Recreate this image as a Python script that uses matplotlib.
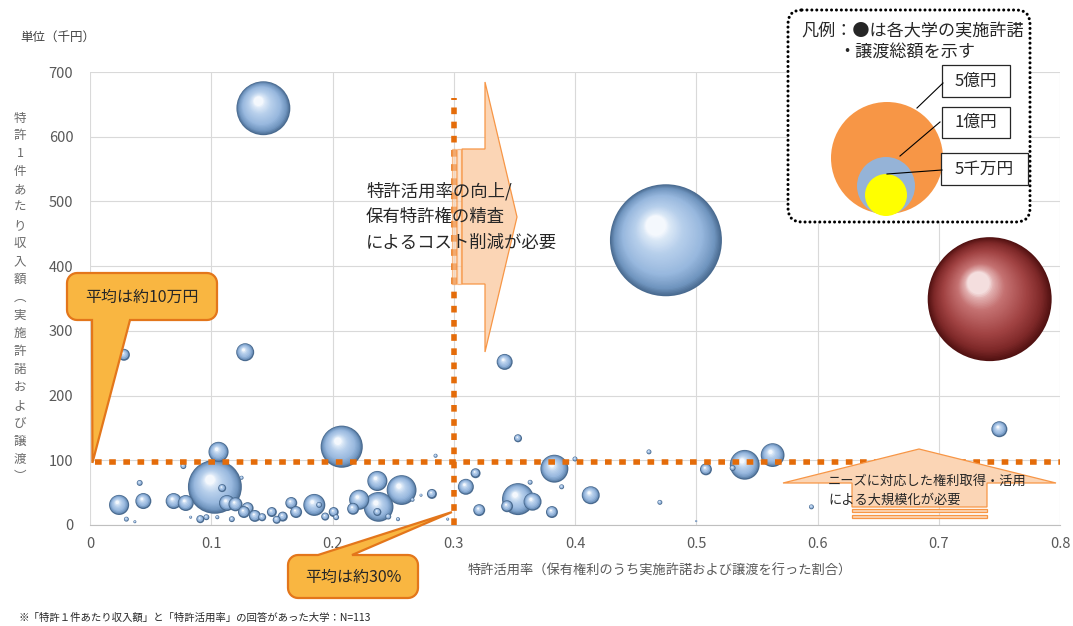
import numpy as np
import matplotlib
matplotlib.use('Agg')
import matplotlib.pyplot as plt
from matplotlib.patches import Polygon, Rectangle, Circle, FancyBboxPatch
from matplotlib.colors import LinearSegmentedColormap

plt.rcParams['font.family'] = ['Noto Sans CJK JP', 'DejaVu Sans']

# 各大学: 特許活用率, 特許1件あたり収入額(千円), 実施許諾・譲渡総額(百万円)
util = [0.024, 0.044, 0.041, 0.030, 0.037, 0.069, 0.079, 0.103, 0.106, 0.077,
        0.109, 0.113, 0.120, 0.125, 0.127, 0.130, 0.136, 0.142, 0.150, 0.154,
        0.091, 0.096, 0.105, 0.117, 0.083, 0.028, 0.128, 0.143,
        0.2076, 0.285, 0.237, 0.257, 0.222, 0.238, 0.217, 0.237, 0.246, 0.254,
        0.266, 0.273, 0.282, 0.185, 0.189, 0.166, 0.170, 0.159, 0.201, 0.194,
        0.203, 0.295,
        0.310, 0.318, 0.321, 0.353, 0.353, 0.365, 0.344, 0.381, 0.383, 0.363,
        0.389, 0.400, 0.413, 0.342, 0.461, 0.508, 0.540, 0.530, 0.563, 0.470,
        0.595, 0.500, 0.750, 0.475]
income = [31, 37, 65, 9, 5, 37, 34, 59, 113, 91,
          57, 34, 32, 73, 20, 26, 14, 12, 20, 8,
          9, 12, 12, 9, 12, 263, 267, 644,
          121, 107, 68, 54, 39, 28, 25, 20, 13, 9,
          39, 46, 48, 31, 31, 34, 20, 13, 20, 13,
          12, 9,
          59, 80, 23, 134, 40, 36, 29, 20, 87, 66,
          59, 102, 46, 252, 113, 86, 93, 88, 108, 35,
          28, 6, 148, 440]
total = [15, 9.5, 1.3, 0.9, 0.33, 9.5, 9.5, 108, 15, 1.3,
         2.4, 9.5, 7.3, 0.6, 5.3, 5.3, 5.3, 2.4, 3.7, 2.4,
         2.4, 1.3, 0.6, 1.3, 0.33, 5.3, 12, 108,
         66, 0.6, 15, 33, 15, 33, 5.3, 2.4, 1.3, 0.6,
         0.6, 0.33, 3.7, 18, 1.3, 5.3, 5.3, 3.7, 3.7, 2.4,
         1.3, 0.33,
         9.5, 3.7, 5.3, 2.4, 38, 12, 5.3, 5.3, 29, 0.9,
         0.9, 0.9, 12, 9.5, 0.9, 5.3, 33, 1.3, 21, 0.9,
         0.9, 0.15, 9.5, 466]

# 強調表示する大学
hl_util = [0.742]
hl_income = [349]
hl_total = [571]

avg_util = 0.30
avg_income = 98

x_ticks = [0, 0.1, 0.2, 0.3, 0.4, 0.5, 0.6, 0.7, 0.8]
x_tick_labels = ['0', '0.1', '0.2', '0.3', '0.4', '0.5', '0.6', '0.7', '0.8']
y_ticks = [0, 100, 200, 300, 400, 500, 600, 700]

y_label = '特許1件あたり収入額︵実施許諾および譲渡︶'
x_label = '特許活用率（保有権利のうち実施許諾および譲渡を行った割合）'

W, H, DPI = 1073, 626, 100
fig = plt.figure(figsize=(W / DPI, H / DPI), dpi=DPI)
ax = fig.add_axes([90 / W, 1 - 525 / H, 970 / W, 453 / H])
ax.set_xlim(0, 0.8)
ax.set_ylim(0, 700)
ax.set_xticks(x_ticks)
ax.set_xticklabels(x_tick_labels)
ax.set_yticks(y_ticks)
ax.tick_params(length=0, labelsize=10.5, colors='#595959')
ax.tick_params(axis='x', pad=9)
ax.tick_params(axis='y', pad=12)
ax.grid(True, color='#d9d9d9', lw=0.8)
ax.set_axisbelow(True)
for side in ['top', 'right', 'left']:
    ax.spines[side].set_visible(False)
ax.spines['bottom'].set_color('#bfbfbf')
ax.set_xlabel(x_label, fontsize=9.5, color='#595959', va='center')
ax.xaxis.set_label_coords((660 - 90) / 970, -(571 - 525) / 453)

ppx = 970 / 0.8
ppy = 453 / 700

blue = LinearSegmentedColormap.from_list('ball', [
    (0, '#4a6b90'), (0.12, '#7095bf'), (0.35, '#98b8de'),
    (0.7, '#b8d0ec'), (0.92, '#dce9f7'), (1, '#f4f8fd')])
red = LinearSegmentedColormap.from_list('ball_r', [
    (0, '#521212'), (0.15, '#7e2828'), (0.4, '#a24444'),
    (0.75, '#c57272'), (0.93, '#e2b0b0'), (1, '#f4dede')])


def bubble_r(v):
    # 半径(px)、面積が総額に比例
    return 58 * np.sqrt(v / 500)


def sphere(x, y, v, cmap, z):
    R = bubble_r(v)
    n = int(np.clip(R * 0.9, 4, 45))
    t = np.linspace(0, 1, n)
    rad = R * (1 - 0.82 * t)
    xs = x - 0.18 * R * t / ppx
    ys = y + 0.26 * R * t / ppy
    s = (2 * rad * 72 / DPI) ** 2
    ax.scatter(xs, ys, s=s, c=cmap(t), linewidths=0, zorder=z, clip_on=False)


order = np.argsort(total)[::-1]
for k, i in enumerate(order):
    sphere(util[i], income[i], total[i], blue, 3 + k * 0.001)
for i in range(len(hl_util)):
    sphere(hl_util[i], hl_income[i], hl_total[i], red, 3)

# 平均線
dot = dict(color='#e46c0a', lw=4, dashes=(1.2, 1.35), dash_capstyle='butt',
           zorder=6, clip_on=False)
ax.plot([0.004, 0.8], [avg_income, avg_income], **dot)
ax.plot([avg_util, avg_util], [0, 660], **dot)

# 注記用のピクセル座標レイヤー
ov = fig.add_axes([0, 0, 1, 1], zorder=5)
ov.set_xlim(0, W)
ov.set_ylim(H, 0)
ov.axis('off')
ov.patch.set_visible(False)


def to_px(x, y):
    dx, dy = ax.transData.transform((x, y))
    return dx, H - dy


def callout(x0, y0, x1, y1, rad, side, a, b, tip):
    pts = []

    def arc(cx, cy, a0, a1):
        for ang in np.linspace(a0, a1, 8):
            pts.append((cx + rad * np.cos(ang), cy + rad * np.sin(ang)))
    arc(x0 + rad, y0 + rad, np.pi, 1.5 * np.pi)
    if side == 'top':
        pts.extend([(a, y0), tip, (b, y0)])
    arc(x1 - rad, y0 + rad, 1.5 * np.pi, 2 * np.pi)
    arc(x1 - rad, y1 - rad, 0, 0.5 * np.pi)
    if side == 'bottom':
        pts.extend([(b, y1), tip, (a, y1)])
    arc(x0 + rad, y1 - rad, 0.5 * np.pi, np.pi)
    ov.add_patch(Polygon(pts, closed=True, fc='#f9b641', ec='#e3761b', lw=1.6))


callout(67, 273, 217, 320, 10, 'bottom', 92, 130, to_px(0.002, avg_income - 2))
ov.text(142, 297, '平均は約10万円', fontsize=11.5, color='#262626',
        ha='center', va='center')
callout(288, 555, 418, 598, 10, 'top', 318, 352, to_px(avg_util - 0.0015, 20))
ov.text(353, 577, '平均は約30%', fontsize=11.5, color='#262626',
        ha='center', va='center')

# 右向き矢印
arrow_fc, arrow_ec = '#fbd5b5', '#f79646'
ov.add_patch(Polygon([(462, 149), (485, 149), (485, 82), (517, 217), (485, 352),
                      (485, 284), (462, 284)], fc=arrow_fc, ec=arrow_ec, lw=0.9))
for sx0, sx1 in [(452, 455.5), (457, 460.5)]:
    ov.add_patch(Rectangle((sx0, 149), sx1 - sx0, 135, fc=arrow_fc, ec=arrow_ec,
                           lw=0.9, alpha=0.6))
for j, line in enumerate(['特許活用率の向上/', '保有特許権の精査', 'によるコスト削減が必要']):
    ov.text(366, 191 + j * 26, line, fontsize=12.5, color='#262626', va='center')

# 上向き矢印
ov.add_patch(Polygon([(852, 507), (852, 483), (783, 483), (919, 449), (1056, 483),
                      (987, 483), (987, 507)], fc=arrow_fc, ec=arrow_ec, lw=0.9))
for sy0, sy1 in [(509, 512), (514.5, 518)]:
    ov.add_patch(Rectangle((852, sy0), 135, sy1 - sy0, fc=arrow_fc, ec=arrow_ec,
                           lw=0.9))
for j, line in enumerate(['ニーズに対応した権利取得・活用', 'による大規模化が必要']):
    ov.text(828, 481 + j * 19.5, line, fontsize=9.5, color='#262626', va='center')

# 凡例
ov.add_patch(FancyBboxPatch((788, 10), 242, 212,
                            boxstyle='round,pad=0,rounding_size=14',
                            fc='white', ec='black', lw=2.2,
                            ls=(0, (0.01, 1.6)), capstyle='round'))
ov.text(801, 32, '凡例：●は各大学の実施許諾', fontsize=12.3, color='#262626',
        va='center')
ov.text(838, 53, '・譲渡総額を示す', fontsize=12.3, color='#262626', va='center')
ov.add_patch(Circle((887, 158), 56, fc='#f79646', ec='none'))
ov.add_patch(Circle((886, 186), 29, fc='#95b3d7', ec='none'))
ov.add_patch(Circle((886, 195), 21, fc='#ffff00', ec='none'))
for (lx0, ly0, lx1, ly1) in [(917, 108, 943, 83), (900, 156, 940, 122),
                             (887, 174, 942, 170)]:
    ov.plot([lx0, lx1], [ly0, ly1], color='black', lw=0.8)
for (bx, by, bw, bh, txt) in [(942, 65, 68, 32, '5億円'), (942, 107, 68, 31, '1億円'),
                              (941, 153, 87, 32, '5千万円')]:
    ov.add_patch(Rectangle((bx, by), bw, bh, fc='white', ec='#262626', lw=0.9))
    ov.text(bx + bw / 2, by + bh / 2, txt, fontsize=12, color='#262626',
            ha='center', va='center')

# 縦書きの軸ラベルと単位
for j, ch in enumerate(y_label):
    ov.text(20, 118 + j * 17.95, ch, fontsize=9, color='#6b6b6b',
            ha='center', va='center')
ov.text(20, 37, '単位（千円）', fontsize=9, color='#404040', va='center')
ov.text(18, 618, '※「特許１件あたり収入額」と「特許活用率」の回答があった大学：N=113',
        fontsize=7.5, color='#262626', va='center')

fig.savefig('out.png', dpi=DPI)
